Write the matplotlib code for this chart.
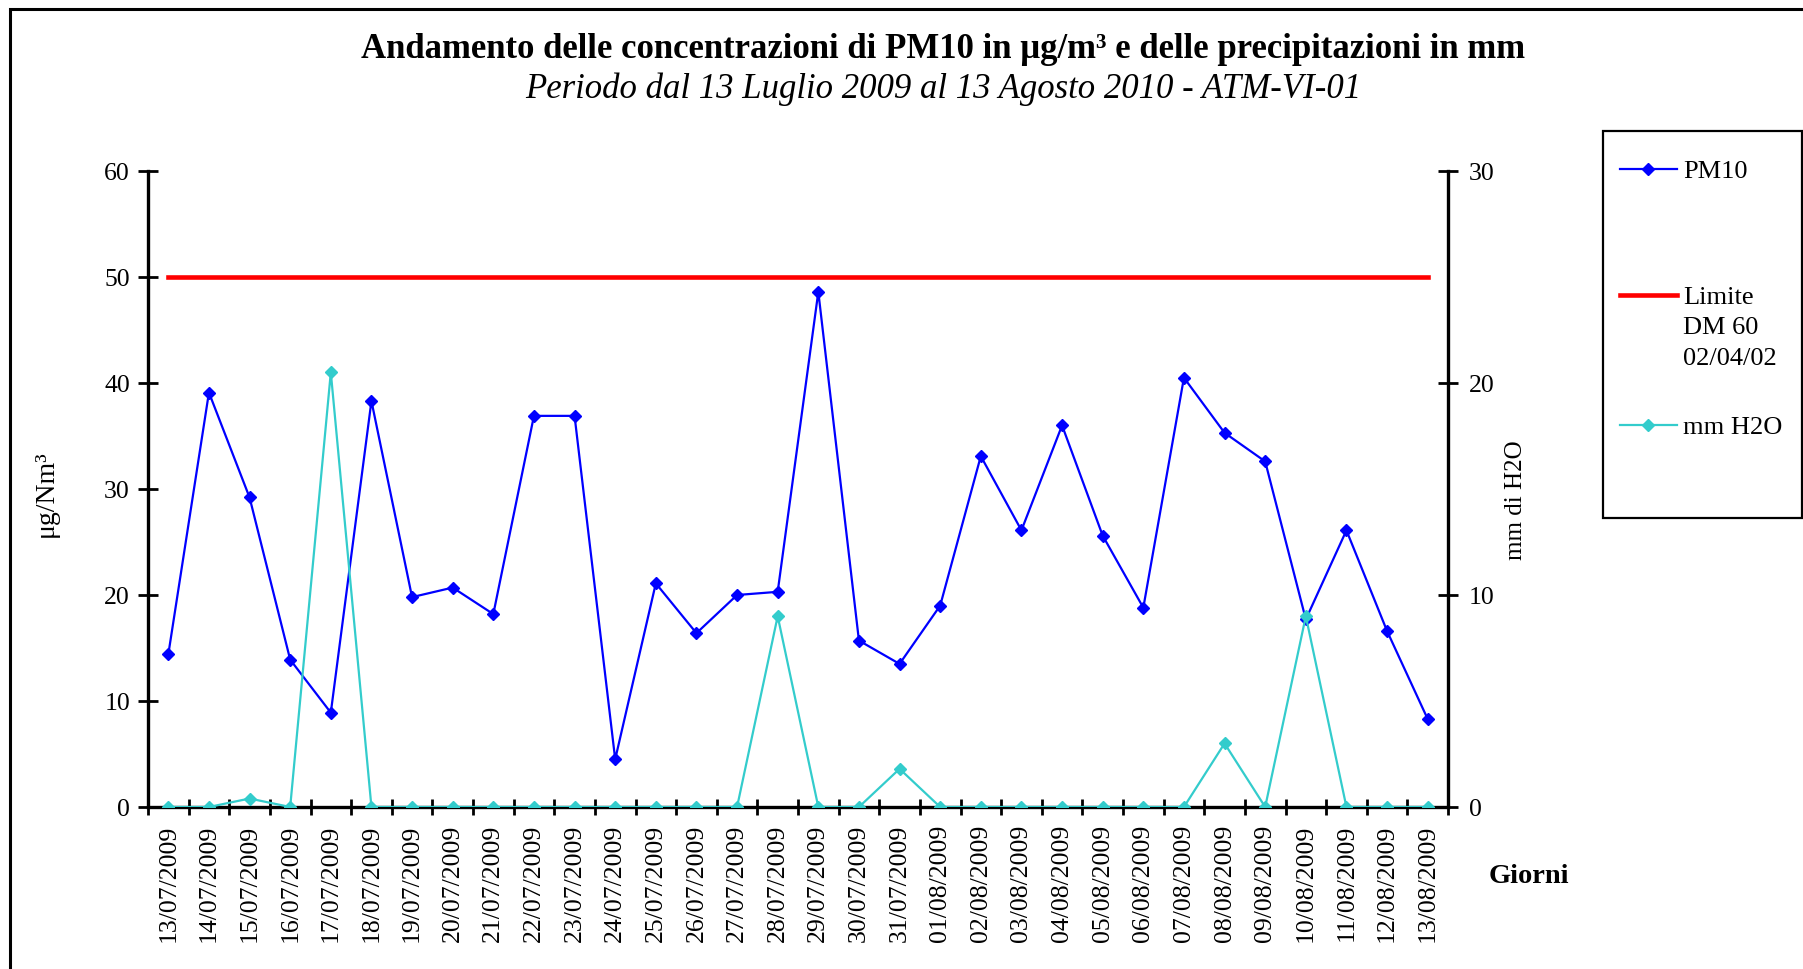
import numpy as np
import matplotlib
matplotlib.use("Agg")
import matplotlib.pyplot as plt
from matplotlib.patches import Rectangle
from matplotlib.lines import Line2D

plt.rcParams['font.family'] = ['Liberation Serif', 'DejaVu Serif']

# giorni di campionamento
giorni = ["13/07/2009", "14/07/2009", "15/07/2009", "16/07/2009", "17/07/2009",
          "18/07/2009", "19/07/2009", "20/07/2009", "21/07/2009", "22/07/2009",
          "23/07/2009", "24/07/2009", "25/07/2009", "26/07/2009", "27/07/2009",
          "28/07/2009", "29/07/2009", "30/07/2009", "31/07/2009", "01/08/2009",
          "02/08/2009", "03/08/2009", "04/08/2009", "05/08/2009", "06/08/2009",
          "07/08/2009", "08/08/2009", "09/08/2009", "10/08/2009", "11/08/2009",
          "12/08/2009", "13/08/2009"]

pm10 = [14.4, 39.1, 29.2, 13.9, 8.9, 38.3, 19.8, 20.7, 18.2, 36.9,
        36.9, 4.5, 21.1, 16.4, 20.0, 20.3, 48.6, 15.7, 13.5, 19.0,
        33.1, 26.1, 36.0, 25.6, 18.8, 40.5, 35.3, 32.6, 17.7, 26.1,
        16.6, 8.3]

pioggia = [0, 0, 0.4, 0, 20.5, 0, 0, 0, 0, 0,
           0, 0, 0, 0, 0, 9.0, 0, 0, 1.8, 0,
           0, 0, 0, 0, 0, 0, 3.0, 0, 9.0, 0,
           0, 0]

limite = [50] * len(giorni)

x = np.arange(len(giorni))

fig = plt.figure(figsize=(18.03, 9.70), dpi=100)
ax = fig.add_axes([148/1803, 1 - 808/970, 1300/1803, 636/970])
ax2 = ax.twinx()

ax.plot(x, limite, color='#FF0000', lw=3.3, zorder=3)
ax.plot(x, pm10, color='#0000FF', lw=1.6, marker='D', ms=6.5, zorder=4)
ax2.plot(x, pioggia, color='#33CCCC', lw=1.6, marker='D', ms=6.5, zorder=4)

ax.set_xlim(-0.5, len(giorni) - 0.5)
ax.set_ylim(0, 60)
ax2.set_ylim(0, 30)
ax.set_yticks(np.arange(0, 61, 10))
ax2.set_yticks(np.arange(0, 31, 10))

ax.set_xticks(x)
ax.set_xticklabels(giorni, rotation=90, fontsize=18.5)
ax.set_xticks(np.arange(-0.5, len(giorni), 1), minor=True)
ax.tick_params(axis='x', which='major', length=0, pad=12)
ax.tick_params(axis='x', which='minor', length=12, width=2, direction='inout')
ax.tick_params(axis='y', length=14, width=2, direction='inout', labelsize=18.5, pad=6)
ax2.tick_params(axis='y', length=14, width=2, direction='inout', labelsize=18.5, pad=8)

for a in (ax, ax2):
    for s in a.spines.values():
        s.set_visible(False)
ax.spines['left'].set_visible(True)
ax.spines['bottom'].set_visible(True)
ax2.spines['right'].set_visible(True)
ax.spines['left'].set_linewidth(2.4)
ax.spines['bottom'].set_linewidth(2.4)
ax2.spines['right'].set_linewidth(2.4)

fig.text(46/1803, 1 - 494/970, "μg/Nm³", rotation=90, fontsize=20,
         ha='center', va='center')
fig.text(1516/1803, 1 - 500/970, "mm di H2O", rotation=90, fontsize=18,
         ha='center', va='center')
fig.text(1529/1803, 1 - 877/970, "Giorni", fontsize=20.5, fontweight='bold',
         ha='center', va='center')

fig.text(943/1803, 1 - 49/970,
         "Andamento delle concentrazioni di PM10 in μg/m³ e delle precipitazioni in mm",
         fontsize=25, fontweight='bold', ha='center', va='center')
fig.text(943/1803, 1 - 89/970,
         "Periodo dal 13 Luglio 2009 al 13 Agosto 2010 - ATM-VI-01",
         fontsize=25, style='italic', ha='center', va='center')

# cornice esterna
fig.add_artist(Rectangle((10/1803, -0.1), 1.2, 1 - 10/970 + 0.1,
                         transform=fig.transFigure, fill=False,
                         edgecolor='black', lw=2.2))

# legenda
fig.add_artist(Rectangle((1603/1803, 1 - 519/970), 199/1803, 387/970,
                         transform=fig.transFigure, facecolor='white',
                         edgecolor='black', lw=1.6))
voci = [("PM10", '#0000FF', 1.6, 'D', 170),
        ("Limite\nDM 60\n02/04/02", '#FF0000', 3.3, None, 296),
        ("mm H2O", '#33CCCC', 1.6, 'D', 426)]
for testo, col, lw, mk, yp in voci:
    yf = 1 - yp / 970
    fig.add_artist(Line2D([1620/1803, 1677/1803], [yf, yf], color=col, lw=lw,
                          transform=fig.transFigure))
    if mk:
        fig.add_artist(Line2D([1648/1803], [yf], color=col, marker=mk, ms=6.5,
                              transform=fig.transFigure))
    fig.text(1683/1803, yf + 9/970, testo, fontsize=19, ha='left', va='top',
             linespacing=1.5)

fig.savefig("out.png", dpi=100)
